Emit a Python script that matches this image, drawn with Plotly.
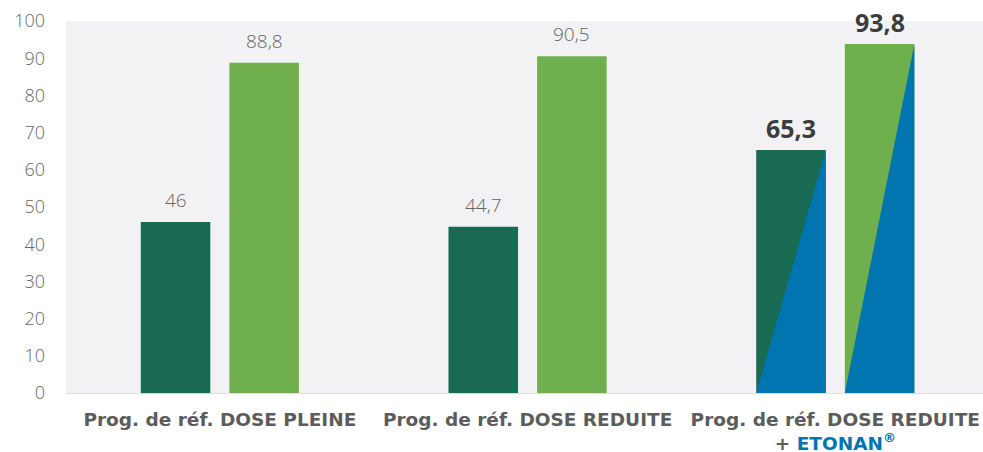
import plotly.graph_objects as go

categories = [
    "Prog. de réf. DOSE PLEINE",
    "Prog. de réf. DOSE REDUITE",
    "Prog. de réf. DOSE REDUITE<br>+ <span style='color:#0075b0'>ETONAN<sup>®</sup></span>",
]
series_a = [46, 44.7, 65.3]
series_b = [88.8, 90.5, 93.8]
highlight = [False, False, True]
y_ticks = [0, 10, 20, 30, 40, 50, 60, 70, 80, 90, 100]

DARK = "#186b52"
LIGHT = "#6faf4d"
BLUE = "#0075b0"
BAR_W = 0.226
OFF_A = -0.257
OFF_B = 0.031
FONT = "Open Sans"

def fmt(v):
    return ("%g" % v).replace(".", ",")

x = list(range(len(categories)))
fig = go.Figure()
fig.add_trace(go.Bar(x=x, y=series_a, width=BAR_W, offset=OFF_A, marker_color=DARK,
                     marker_line_width=0, showlegend=False))
fig.add_trace(go.Bar(x=x, y=series_b, width=BAR_W, offset=OFF_B, marker_color=LIGHT,
                     marker_line_width=0, showlegend=False))

# blue triangles on highlighted bars
for i, h in enumerate(highlight):
    if not h:
        continue
    for off, vals in ((OFF_A, series_a), (OFF_B, series_b)):
        xl = i + off
        xr = xl + BAR_W
        fig.add_trace(go.Scatter(x=[xl, xr, xr, xl], y=[0, vals[i], 0, 0], mode="lines",
                                 fill="toself", fillcolor=BLUE, line=dict(width=0),
                                 hoverinfo="skip", showlegend=False))

# value labels
for off, vals in ((OFF_A, series_a), (OFF_B, series_b)):
    for i, v in enumerate(vals):
        h = highlight[i]
        fig.add_annotation(
            x=i + off + BAR_W / 2, y=v, xref="x", yref="y",
            text=("<b>%s</b>" % fmt(v)) if h else fmt(v),
            showarrow=False, yanchor="bottom", yshift=3 if h else 7,
            font=dict(family=FONT, size=25 if h else 19,
                      color="#3c3c3c" if h else "#666666",
                      weight=700 if h else 300),
        )

fig.update_layout(
    width=983, height=452,
    margin=dict(l=66, r=0, t=21, b=59),
    paper_bgcolor="white", plot_bgcolor="#f2f2f4",
    font=dict(family=FONT, color="#555555"),
    xaxis=dict(tickmode="array", tickvals=x, ticktext=categories, range=[-0.5, 2.48],
               showgrid=False, zeroline=False, showline=True, linecolor="#dddddd",
               tickfont=dict(size=18.5, color="#5c5c5c", family="DejaVu Sans", weight=700),
               ticks="", automargin=False, ticklabelstandoff=10),
    yaxis=dict(range=[0, 100], tickvals=y_ticks, showgrid=False, zeroline=False,
               tickfont=dict(size=18, color="#666666", family=FONT, weight=300),
               ticklabelstandoff=20, automargin=False),
)
fig.write_html("out.html", config={"displayModeBar": False},
               post_script="document.body.style.margin='0';document.body.style.overflow='hidden';")
